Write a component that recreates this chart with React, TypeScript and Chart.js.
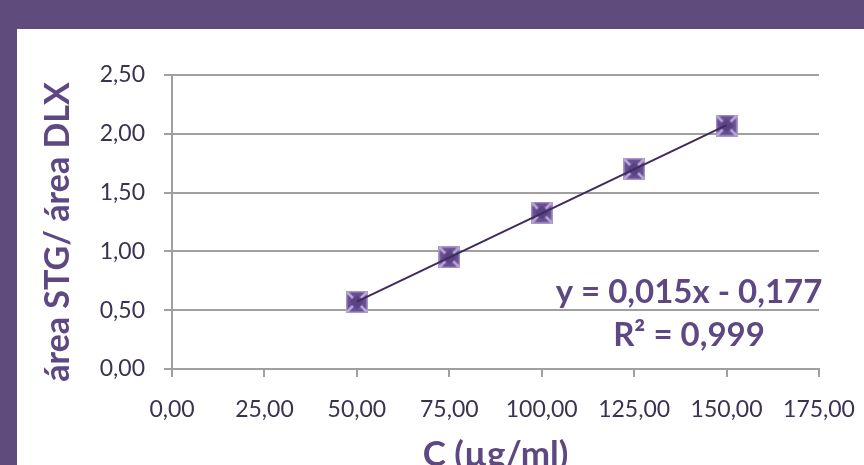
import React, { useEffect, useRef } from "react";
import { Chart, registerables } from "chart.js";

Chart.register(...registerables);

// ---- data ----
const concentrations = [50, 75, 100, 125, 150];
const areaRatios = [0.57, 0.95, 1.33, 1.7, 2.07];
const trendX = [50, 150];
const trendY = [0.573, 2.073];
const xTickValues = [0, 25, 50, 75, 100, 125, 150, 175];
const yTickValues = [0, 0.5, 1, 1.5, 2, 2.5];
const equationLines = ["y = 0,015x - 0,177", "R² = 0,999"];
const xTitle = "C (µg/ml)";
const yTitle = "área STG/ área DLX";

const fmt = (v: number) => v.toFixed(2).replace(".", ",");

const PURPLE_BG = "#604c7c";
const TITLE_PURPLE = "#5e4884";
const TICK_COLOR = "#3b3150";
const GRID = "#a0a0a0";

function makeMarker(): HTMLCanvasElement {
  const s = 22;
  const c = document.createElement("canvas");
  c.width = s;
  c.height = s;
  const ctx = c.getContext("2d")!;
  ctx.fillStyle = "#a896c8";
  ctx.fillRect(0, 0, s, s);
  ctx.fillStyle = "#684f93";
  ctx.fillRect(1.5, 1.5, s - 3, s - 3);
  ctx.strokeStyle = "#b9aad8";
  ctx.lineWidth = 2.5;
  ctx.beginPath();
  ctx.moveTo(1, 1); ctx.lineTo(7, 7);
  ctx.moveTo(s - 1, 1); ctx.lineTo(s - 7, 7);
  ctx.moveTo(1, s - 1); ctx.lineTo(7, s - 7);
  ctx.moveTo(s - 1, s - 1); ctx.lineTo(s - 7, s - 7);
  ctx.stroke();
  ctx.fillStyle = "#5a4283";
  ctx.beginPath();
  ctx.moveTo(s / 2, 4);
  ctx.lineTo(s - 4, s / 2);
  ctx.lineTo(s / 2, s - 4);
  ctx.lineTo(4, s / 2);
  ctx.closePath();
  ctx.fill();
  return c;
}

const textPlugin = {
  id: "textPlugin",
  afterDraw(chart: any) {
    const { ctx, chartArea } = chart;
    ctx.save();
    ctx.fillStyle = TITLE_PURPLE;
    ctx.font = "bold 33px Lato";
    ctx.textAlign = "center";
    ctx.textBaseline = "alphabetic";
    const ex = chartArea.left + 517;
    ctx.fillText(equationLines[0], ex, chartArea.top + 228);
    ctx.fillText(equationLines[1], ex, chartArea.top + 271);
    ctx.font = "bold 35px Lato";
    ctx.fillText(xTitle, (chartArea.left + chartArea.right) / 2, chartArea.bottom + 97);
    ctx.font = "bold 34px Lato";
    ctx.translate(52, chartArea.top + 157);
    ctx.rotate(-Math.PI / 2);
    ctx.fillText(yTitle, 0, 0);
    ctx.restore();
  },
};

export default function App() {
  const ref = useRef<HTMLCanvasElement | null>(null);

  useEffect(() => {
    if (!ref.current) return;
    const marker = makeMarker();
    const chart = new Chart(ref.current, {
      type: "scatter",
      data: {
        datasets: [
          {
            type: "line",
            data: trendX.map((x, i) => ({ x, y: trendY[i] })),
            borderColor: "#3f2a5e",
            borderWidth: 2,
            pointRadius: 0,
            fill: false,
          } as any,
          {
            data: concentrations.map((x, i) => ({ x, y: areaRatios[i] })),
            pointStyle: marker as any,
            pointRadius: 11,
            showLine: false,
          },
        ],
      },
      options: {
        animation: false,
        responsive: false,
        devicePixelRatio: 1,
        layout: { padding: { top: 46, right: 45, left: 0, bottom: 0 } },
        plugins: {
          legend: { display: false },
          tooltip: { enabled: false },
        },
        scales: {
          x: {
            type: "linear",
            min: 0,
            max: 175,
            afterFit: (s: any) => {
              s.height = 140;
              s.paddingLeft = 0;
              s.paddingRight = 0;
            },
            afterBuildTicks: (s: any) => {
              s.ticks = xTickValues.map((v) => ({ value: v }));
            },
            ticks: {
              autoSkip: false,
              maxRotation: 0,
              padding: 19,
              color: TICK_COLOR,
              font: { family: "Lato", size: 23 },
              callback: (v: any) => fmt(Number(v)),
            },
            grid: {
              drawOnChartArea: false,
              drawTicks: true,
              tickLength: 8,
              color: GRID,
              lineWidth: 2,
            },
            border: { display: true, color: GRID, width: 2 },
          },
          y: {
            type: "linear",
            min: 0,
            max: 2.5,
            afterFit: (s: any) => {
              s.width = 155;
              s.paddingTop = 0;
              s.paddingBottom = 0;
            },
            afterBuildTicks: (s: any) => {
              s.ticks = yTickValues.map((v) => ({ value: v }));
            },
            ticks: {
              padding: 19,
              color: TICK_COLOR,
              font: { family: "Lato", size: 23 },
              callback: (v: any) => fmt(Number(v)),
            },
            grid: {
              drawTicks: true,
              tickLength: 8,
              color: GRID,
              lineWidth: 2,
            },
            border: { display: true, color: GRID, width: 2 },
          },
        },
      },
      plugins: [textPlugin],
    });
    return () => chart.destroy();
  }, []);

  return (
    <div
      style={{
        position: "fixed",
        left: 0,
        top: 0,
        width: 864,
        height: 465,
        overflow: "hidden",
        background: PURPLE_BG,
      }}
    >
      <div
        style={{
          position: "absolute",
          left: 17,
          top: 29,
          width: 847,
          height: 480,
          background: "#ffffff",
        }}
      >
        <canvas
          ref={ref}
          width={847}
          height={480}
          style={{ width: 847, height: 480, display: "block" }}
        />
      </div>
    </div>
  );
}
